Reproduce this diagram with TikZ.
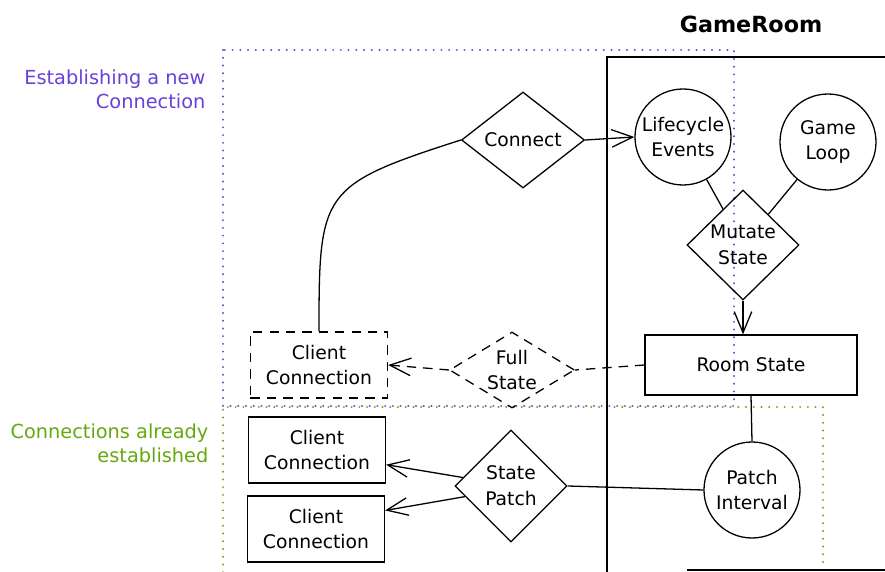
\documentclass[tikz,border=0pt]{standalone}
\usepackage{fontspec}
\setmainfont{DejaVu Sans}
\usetikzlibrary{shapes.geometric,arrows.meta}
\definecolor{violetline}{RGB}{103,65,217}
\definecolor{greenline}{RGB}{102,168,15}
\begin{document}
\begin{tikzpicture}[x=0.03cm,y=-0.03cm,line width=1.1pt,
  >={Straight Barb[length=18pt,width=15pt]},
  every node/.style={font=\fontsize{16}{22}\selectfont,align=center,inner sep=0pt},
  client/.style={draw,minimum width=4.11cm,minimum height=1.98cm},
  event/.style={draw,circle,minimum size=2.88cm},
  decision/.style={draw,diamond,minimum width=3.36cm,minimum height=3.36cm},
  zone/.style={line width=1.8pt,dash pattern=on 0.1pt off 6.5pt,line cap=round},
  sketchdash/.style={dash pattern=on 8pt off 6pt}]
    \useasboundingbox (0,0) rectangle (885,572);
    \clip (0,0) rectangle (885,572);
    \draw[zone,violetline] (223,50) rectangle (734,406);
    \draw[zone,greenline] (223,580) |- (823,407) -- (823,580);
    \draw (607,580) |- (890,57);
    \draw (687,570) -- (890,570);
    \node[font=\fontsize{19}{24}\selectfont\bfseries] (GR) at (751,24) {GameRoom};
    \node[anchor=east,align=right,text=violetline,font=\fontsize{16.5}{20.5}\selectfont] (LN) at (206,89) {Establishing a new\\Connection};
    \node[anchor=east,align=right,text=greenline,font=\fontsize{16.5}{20.5}\selectfont] (LA) at (209,443) {Connections already\\established};
    \node[decision,minimum width=3.69cm,minimum height=2.88cm] (C) at (523,140) {Connect};
    \node[event] (LE) at (683,137) {Lifecycle\\Events};
    \node[event] (GL) at (828,142) {Game\\Loop};
    \node[decision,minimum height=3.3cm] (MS) at (743,245) {Mutate\\State};
    \node[draw,minimum width=6.36cm,minimum height=1.8cm] (RS) at (751,365) {Room State};
    \node[event] (PI) at (752,490) {Patch\\Interval};
    \node[decision] (SP) at (511,486) {State\\Patch};
    \node[decision,sketchdash,aspect=1.64,minimum width=3.75cm,minimum height=2.28cm,inner sep=-5pt] (FS) at (512,370) {Full\\State};
    \node[client,sketchdash] (CC1) at (319,365) {Client\\Connection};
    \node[client] (CC2) at (317,450) {Client\\Connection};
    \node[client] (CC3) at (316,529) {Client\\Connection};
    \draw[->] (C.east) -- (LE.west);
    \draw (LE) -- (MS);
    \draw (GL) -- (MS);
    \draw[->] (MS.south) -- (MS.south |- RS.north);
    \draw (RS.south) -- (PI.north);
    \draw (SP.east) -- (PI.west);
    \draw[->] (SP.170) -- (CC2.-12);
    \draw[->] (SP.193) -- (CC3.15);
    \draw[sketchdash] (RS.west) -- (FS.east);
    \draw[->,sketchdash] (FS.west) -- (CC1.east);
    \draw (CC1.north) .. controls +(0,-140) and +(-140,45) .. (C.west);
\end{tikzpicture}
\end{document}
